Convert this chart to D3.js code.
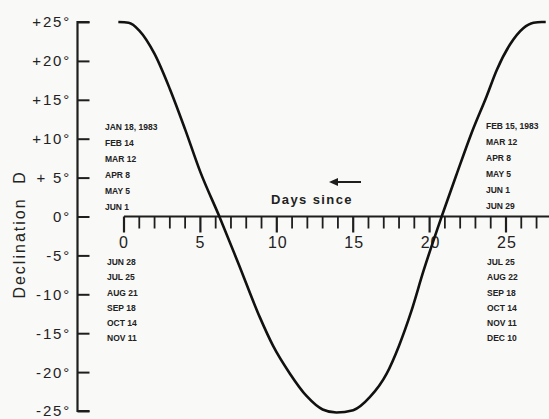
<!DOCTYPE html>
<html><head><meta charset="utf-8">
<script src="https://cdn.jsdelivr.net/npm/d3@7"></script>
<style>
html,body{margin:0;padding:0;background:#f9f9f7;}
svg{display:block;}
text{font-family:"Liberation Sans",Arial,sans-serif;fill:#222;}
</style></head><body>
<svg id="c" width="549" height="419"></svg>
<script>
// Data
const days = [-0.37, 0.3, 1.0, 2.0, 3.0, 4.0, 5.0, 6.24, 7.48, 8.9, 9.75, 10.86, 11.96, 13.0, 13.9, 15.0, 16.1, 17.19, 18.0, 18.8, 19.6, 20.79, 21.8, 22.76, 23.74, 24.39, 25.26, 26.13, 26.8, 27.34, 27.6];
const declination = [25.0, 24.9, 23.9, 20.9, 16.4, 11.2, 5.7, 0.0, -6.0, -13.0, -16.6, -20.2, -23.1, -24.8, -25.2, -24.9, -23.2, -20.2, -16.6, -12.2, -7.0, 0.0, 5.6, 10.8, 15.5, 18.8, 22.1, 24.2, 24.9, 25.0, 25.0];
const yTicks = [25, 20, 15, 10, 5, 0, -5, -10, -15, -20, -25];
const yTickLabels = ["+25°", "+20°", "+15°", "+10°", "+ 5°", "0°", "-5°", "-10°", "-15°", "-20°", "-25°"];
const xMajorTicks = [0, 5, 10, 15, 20, 25];
const xMinorTicks = d3.range(0, 28);
const leftTopDates = ["JAN 18, 1983", "FEB 14", "MAR 12", "APR 8", "MAY 5", "JUN 1"];
const leftBottomDates = ["JUN 28", "JUL 25", "AUG 21", "SEP 18", "OCT 14", "NOV 11"];
const rightTopDates = ["FEB 15, 1983", "MAR 12", "APR 8", "MAY 5", "JUN 1", "JUN 29"];
const rightBottomDates = ["JUL 25", "AUG 22", "SEP 18", "OCT 14", "NOV 11", "DEC 10"];

const svg = d3.select("#c");
const x = d3.scaleLinear().domain([0, 25]).range([124, 506]);
const y = d3.scaleLinear().domain([25, -25]).range([22, 411]);
const ink = "#1e1e1e";

// Y axis
const yAxis = d3.axisRight(y).tickValues(yTicks).tickSize(12).tickFormat("");
const gy = svg.append("g").attr("transform", "translate(77.5,0)").call(yAxis);
gy.select(".domain").attr("stroke", ink).attr("stroke-width", 2.2).attr("d", `M12,${y(25)}H0V${y(-25)}H12`);
gy.selectAll(".tick line").attr("stroke", ink).attr("stroke-width", 2);
svg.append("g").selectAll("text").data(yTicks).join("text")
  .attr("x", 71).attr("y", d => y(d)).attr("dy", "0.36em")
  .attr("text-anchor", "end").attr("font-size", 15).attr("letter-spacing", 1.8)
  .text((d, i) => yTickLabels[i]);

// Y title
svg.append("text").attr("transform", `translate(25,248) rotate(-90)`)
  .attr("text-anchor", "middle").attr("font-size", 16).attr("letter-spacing", 2)
  .text("Declination");
svg.append("text").attr("transform", `translate(25,178) rotate(-90)`)
  .attr("text-anchor", "middle").attr("font-size", 16)
  .text("D");

// X axis (along 0°)
const y0 = y(0);
const gx = svg.append("g").attr("transform", `translate(0,${y0})`);
gx.append("line").attr("x1", x(0)).attr("x2", 549).attr("y1", 0).attr("y2", 0)
  .attr("stroke", ink).attr("stroke-width", 2.2);
gx.selectAll("line.minor").data(xMinorTicks.filter(d => d % 5 !== 0)).join("line").attr("class", "minor")
  .attr("x1", d => x(d)).attr("x2", d => x(d)).attr("y1", 0).attr("y2", 12)
  .attr("stroke", ink).attr("stroke-width", 1.8);
gx.selectAll("line.major").data(xMajorTicks).join("line").attr("class", "major")
  .attr("x1", d => x(d)).attr("x2", d => x(d)).attr("y1", 0).attr("y2", 16)
  .attr("stroke", ink).attr("stroke-width", 2.2);
gx.selectAll("text").data(xMajorTicks).join("text")
  .attr("x", d => x(d) + (d >= 10 ? 1 : 0)).attr("y", 31)
  .attr("text-anchor", "middle").attr("font-size", 16).attr("letter-spacing", 1)
  .text(d => d);

// Days since + arrow
svg.append("text").attr("x", 312).attr("y", 204).attr("text-anchor", "middle")
  .attr("font-size", 13).attr("font-weight", "bold").attr("letter-spacing", 1.4).text("Days since");
svg.append("line").attr("x1", 336).attr("x2", 361).attr("y1", 182).attr("y2", 182)
  .attr("stroke", ink).attr("stroke-width", 2);
svg.append("path").attr("d", "M329,182 L338,178 L338,186 Z").attr("fill", ink);

// Date lists
function dateList(arr, x0, yStart, step) {
  svg.append("g").selectAll("text").data(arr).join("text")
    .attr("x", x0).attr("y", (d, i) => yStart + i * step).attr("dy", "0.35em")
    .attr("font-family", "'DejaVu Sans Mono', monospace").attr("font-weight", "bold")
    .attr("font-size", 8.5).attr("fill", "#2a2a2a").text(d => d);
}
dateList(leftTopDates, 105, 127, 16);
dateList(leftBottomDates, 107, 262, 15.3);
dateList(rightTopDates, 486, 126, 16);
dateList(rightBottomDates, 487, 262, 15.3);

// Curve
const pts = days.map((d, i) => [d, declination[i]]);
svg.append("path").datum(pts)
  .attr("fill", "none").attr("stroke", "#111").attr("stroke-width", 2.6)
  .attr("d", d3.line().x(d => x(d[0])).y(d => y(d[1])).curve(d3.curveMonotoneX));
</script>
</body></html>
